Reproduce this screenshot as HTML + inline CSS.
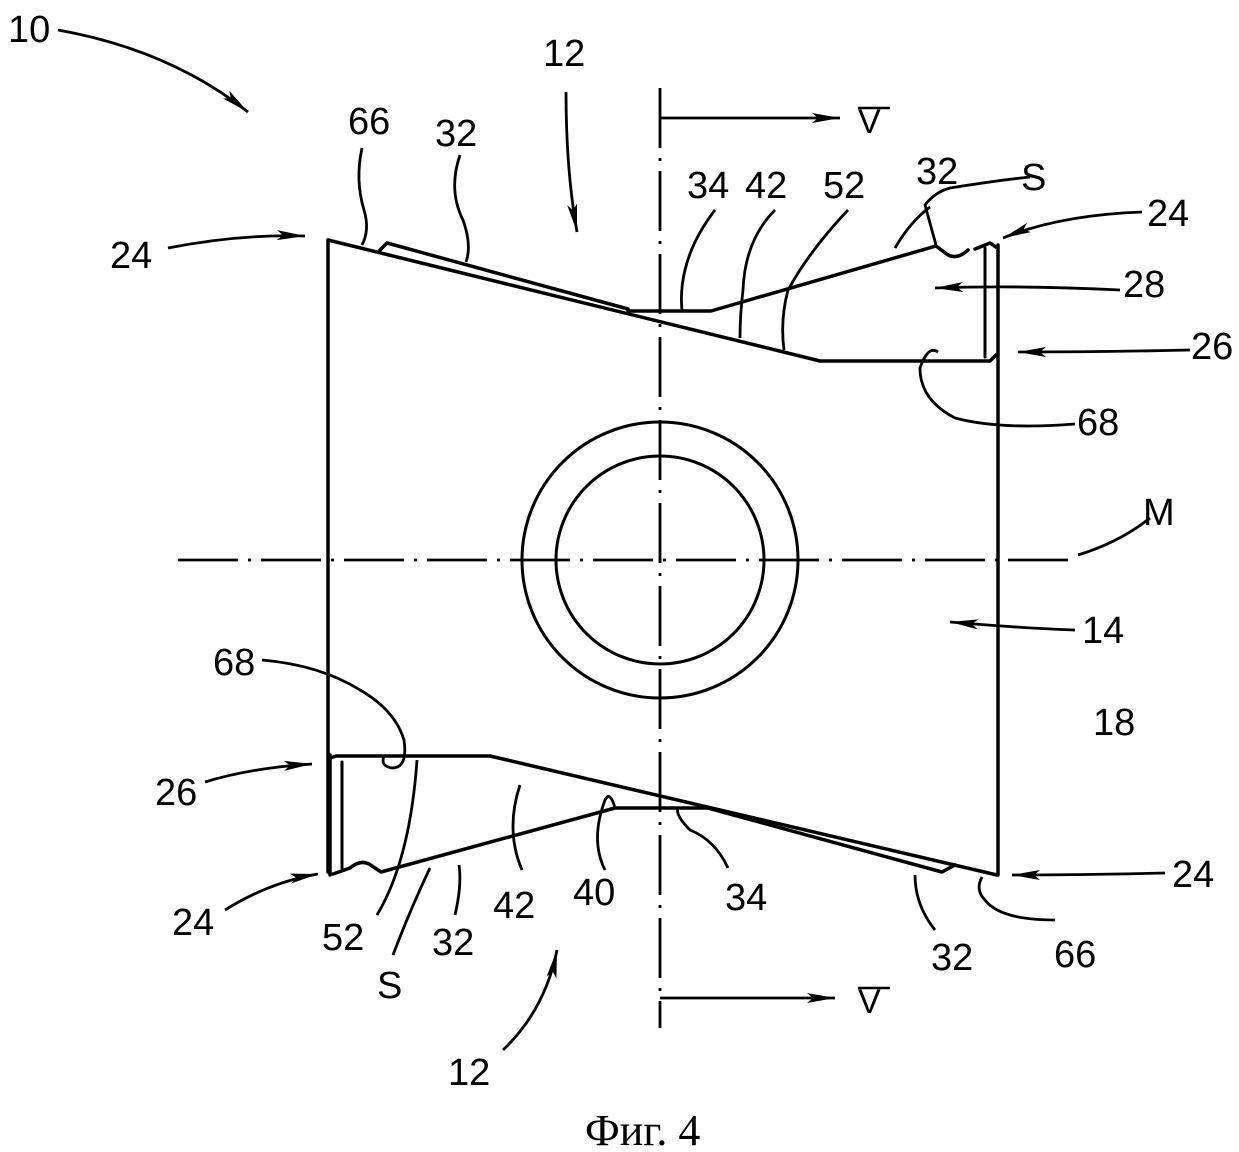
<!DOCTYPE html>
<html><head><meta charset="utf-8"><style>html,body{margin:0;padding:0;background:#fff}svg{display:block}</style></head><body>
<svg width="1239" height="1152" viewBox="0 0 1239 1152" xmlns="http://www.w3.org/2000/svg">
<defs>
<marker id="a" markerWidth="30" markerHeight="12" refX="28" refY="6" orient="auto" markerUnits="userSpaceOnUse">
<path d="M0,1 L28,6 L0,11 L6,6 Z" fill="#000"/>
</marker>
</defs>
<g fill="none" stroke="#000" stroke-width="3.5" stroke-linejoin="round" stroke-linecap="round">
<line x1="328" y1="240" x2="328" y2="872"/>
<line x1="998" y1="245" x2="998" y2="875"/>
<path d="M328,240 L820,361 L990,361 L996,355"/>
<path d="M628,311 L711,311 L936,246 L944,252 Q955,262 968,250 M975,249 L990,243 L996,247"/>
<path d="M380,250 L387,243 L628,309"/>
<line x1="985" y1="248" x2="985" y2="357" stroke-width="3"/>
<path d="M330,758 L336,756 L490,756 L997,875"/>
<path d="M333,874 L350,868 Q362,858 372,866 L381,872 L615,808 L708,808"/>
<path d="M708,808 L942,872 L955,865"/>
<line x1="342" y1="762" x2="342" y2="868" stroke-width="3"/>
<line x1="330" y1="755" x2="330" y2="875"/>
<circle cx="660" cy="560" r="138" stroke-width="3"/>
<circle cx="660" cy="560" r="104" stroke-width="3"/>
</g>
<g stroke="#000" stroke-width="2.8" fill="none">
<line x1="660" y1="88" x2="660" y2="1028" stroke-dasharray="60,10,3,10"/>
<line x1="178" y1="560" x2="1075" y2="560" stroke-dasharray="60,10,3,10"/>
<path d="M660,118 L840,118" marker-end="url(#a)"/>
<path d="M660,998 L835,998" marker-end="url(#a)"/>
<path d="M58,30 Q170,50 248,112" marker-end="url(#a)"/>
<path d="M566,92 Q566,170 577,232" marker-end="url(#a)"/>
<path d="M168,248 Q240,234 305,236" marker-end="url(#a)"/>
<path d="M1120,290 Q1020,285 935,288" marker-end="url(#a)"/>
<path d="M1142,212 Q1060,215 1003,238" marker-end="url(#a)"/>
<path d="M1190,350 Q1100,352 1018,352" marker-end="url(#a)"/>
<path d="M1075,630 Q1020,628 950,622" marker-end="url(#a)"/>
<path d="M205,782 Q250,768 312,764" marker-end="url(#a)"/>
<path d="M225,910 Q270,882 318,874" marker-end="url(#a)"/>
<path d="M1165,873 Q1080,875 1012,875" marker-end="url(#a)"/>
<path d="M503,1050 Q545,1010 557,950" marker-end="url(#a)"/>
<path d="M362,148 Q355,180 364,210 Q370,230 362,245"/>
<path d="M460,155 Q448,190 463,220 Q472,245 466,262"/>
<path d="M715,210 Q692,240 685,270 Q680,290 682,311"/>
<path d="M775,210 Q745,240 743,290 Q740,315 740,338"/>
<path d="M848,210 Q810,250 788,290 Q780,320 784,350"/>
<path d="M930,207 Q910,222 895,248"/>
<path d="M1030,177 Q1000,180 950,188 Q935,192 925,205 L936,245"/>
<path d="M1075,424 Q1000,430 955,418 Q920,400 920,368 Q928,345 938,352"/>
<path d="M262,660 Q320,665 360,690 Q395,710 404,740 Q408,768 392,768 Q380,766 384,756"/>
<path d="M1150,518 Q1120,542 1078,555"/>
<path d="M377,915 Q410,860 417,760"/>
<path d="M393,955 Q410,910 430,868"/>
<path d="M455,915 Q462,885 459,865"/>
<path d="M522,870 Q505,830 520,785"/>
<path d="M605,870 Q590,840 605,800 Q610,790 615,808"/>
<path d="M728,868 Q715,840 690,830 Q675,815 678,808"/>
<path d="M935,930 Q915,905 915,875"/>
<path d="M1055,920 Q1000,920 985,900 Q975,890 982,877"/>
</g>
<g stroke="#000" stroke-width="2.5">
<line x1="858" y1="108" x2="890" y2="108"/><line x1="858" y1="988" x2="890" y2="988"/>
</g>
<g font-family="Liberation Sans, sans-serif" font-size="38" fill="#000">
<text x="8" y="42">10</text>
<text x="543" y="66">12</text>
<text x="348" y="134">66</text>
<text x="435" y="146">32</text>
<text x="110" y="268">24</text>
<text x="687" y="198">34</text>
<text x="745" y="198">42</text>
<text x="823" y="198">52</text>
<text x="916" y="184">32</text>
<text x="1021" y="190">S</text>
<text x="1147" y="226">24</text>
<text x="1123" y="297">28</text>
<text x="1191" y="359">26</text>
<text x="1077" y="435">68</text>
<text x="1143" y="525">M</text>
<text x="1082" y="643">14</text>
<text x="1093" y="735">18</text>
<text x="213" y="675">68</text>
<text x="155" y="805">26</text>
<text x="172" y="935">24</text>
<text x="322" y="950">52</text>
<text x="377" y="998">S</text>
<text x="432" y="955">32</text>
<text x="493" y="918">42</text>
<text x="573" y="905">40</text>
<text x="725" y="910">34</text>
<text x="931" y="970">32</text>
<text x="1054" y="967">66</text>
<text x="1172" y="887">24</text>
<text x="448" y="1085">12</text>
<text x="858" y="133" font-size="34">V</text>
<text x="858" y="1013" font-size="34">V</text>
</g>
<text x="585" y="1145" font-family="Liberation Serif, serif" font-size="44" fill="#000">Фиг. 4</text>
</svg>
</body></html>
